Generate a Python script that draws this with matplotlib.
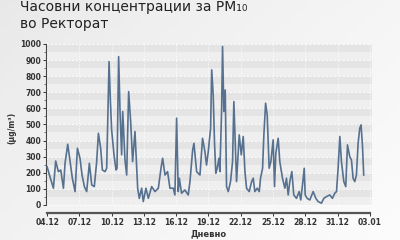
import matplotlib.pyplot as plt
import numpy as np

# hourly PM10 at Rektorat (day offset from 04.12 00:00, value in µg/m³)
days = [0.00, 0.22, 0.59, 0.80, 1.05, 1.27, 1.52, 1.67, 1.92, 2.14,
        2.35, 2.60, 2.82, 3.06, 3.25, 3.47, 3.68, 3.93, 4.15, 4.39,
        4.61, 4.77, 4.98, 5.14, 5.39, 5.54, 5.76, 5.88, 6.00, 6.22,
        6.41, 6.50, 6.65, 6.78, 6.93, 7.03, 7.24, 7.40, 7.58, 7.77,
        7.95, 8.17, 8.42, 8.57, 8.79, 8.94, 9.19, 9.41, 9.72, 10.03,
        10.34, 10.59, 10.74, 10.96, 11.20, 11.42, 11.73, 11.88, 12.04, 12.19,
        12.29, 12.50, 12.81, 13.12, 13.28, 13.53, 13.65, 13.90, 14.21, 14.45,
        14.67, 14.82, 14.98, 15.20, 15.30, 15.44, 15.56, 15.68, 15.81, 15.97,
        16.06, 16.22, 16.31, 16.43, 16.56, 16.68, 16.84, 17.05, 17.24, 17.36,
        17.49, 17.61, 17.86, 18.05, 18.23, 18.39, 18.54, 18.79, 19.01, 19.16,
        19.31, 19.53, 19.72, 19.84, 20.03, 20.15, 20.31, 20.46, 20.64, 20.80,
        21.01, 21.14, 21.26, 21.48, 21.63, 21.88, 22.10, 22.25, 22.41, 22.56,
        22.75, 22.93, 23.18, 23.43, 23.58, 23.74, 23.90, 23.99, 24.17, 24.42,
        24.73, 24.98, 25.19, 25.50, 25.72, 25.97, 26.28, 26.52, 26.74, 26.90,
        27.05, 27.21, 27.36, 27.58, 27.76, 27.92, 28.13, 28.29, 28.44, 28.60,
        28.75, 28.91, 29.06, 29.18, 29.31, 29.43]
pm10 = [238, 186, 104, 273, 207, 217, 104, 259, 377, 269,
        166, 83, 352, 290, 186, 114, 83, 259, 124, 114,
        269, 445, 352, 217, 207, 228, 890, 652, 466, 311,
        217, 228, 921, 580, 311, 580, 280, 186, 704, 518,
        269, 456, 104, 41, 104, 21, 104, 41, 114, 83,
        104, 228, 290, 186, 207, 104, 104, 62, 539, 83,
        166, 73, 93, 62, 145, 342, 383, 207, 186, 414,
        331, 248, 331, 476, 839, 683, 393, 197, 228, 290,
        207, 580, 984, 580, 714, 114, 83, 145, 269, 642,
        373, 145, 435, 311, 425, 207, 104, 83, 145, 166,
        83, 104, 83, 166, 228, 435, 632, 559, 228, 269,
        404, 114, 321, 414, 269, 166, 104, 166, 62, 145,
        207, 62, 41, 83, 31, 124, 228, 62, 41, 31,
        83, 41, 21, 11, 41, 52, 62, 41, 73, 83,
        228, 425, 269, 145, 114, 373, 300, 280, 166, 145,
        186, 383, 476, 497, 373, 186]

tick_days = [0, 3, 6, 9, 12, 15, 18, 21, 24, 27, 30]
tick_labels = ['04.12', '07.12', '10.12', '13.12', '16.12', '19.12',
               '22.12', '25.12', '28.12', '31.12', '03.01']

fig = plt.figure(figsize=(4, 2.4), dpi=100)

# soft gray-to-white gradient behind everything
bg = fig.add_axes([0, 0, 1, 1], zorder=-10)
gx, gy = np.meshgrid(np.linspace(0, 1, 200), np.linspace(0, 1, 120))
grad = 0.6 * gx + 0.4 * gy
bg.imshow(grad, cmap='Greys_r', vmin=-6, vmax=1.2, aspect='auto', extent=[0, 1, 0, 1])
bg.axis('off')

ax = fig.add_axes([0.115, 0.1125, 0.815, 0.7125])
ax.set_facecolor('none')

# striped background bands
for i, lo in enumerate(range(0, 1000, 50)):
    ax.axhspan(lo, lo + 50, color='#e4e4e4' if i % 2 else '#efefef', lw=0, zorder=0)
for v in range(0, 1001, 100):
    ax.axhline(v, color='white', lw=0.6, ls=(0, (3, 2)), zorder=1)
for d in tick_days:
    ax.axvline(d, ymin=0.05, color='white', lw=0.5, ls=(0, (2, 2)), zorder=1)

ax.plot(days, pm10, color='#56718f', lw=1.2, zorder=3)

ax.set_xlim(-0.1, 30.2)
ax.set_ylim(-50, 1012)
ax.set_yticks(range(0, 1001, 100))
ax.set_yticks(range(0, 1001, 50), minor=True)
ax.set_xticks(tick_days)
ax.set_xticklabels(tick_labels)

for s in ['top', 'right']:
    ax.spines[s].set_visible(False)
ax.spines['left'].set_bounds(0, 1000)
ax.spines['bottom'].set_bounds(0, 30)
ax.spines['left'].set_color('#444444')
ax.spines['bottom'].set_color('#555555')
ax.spines['bottom'].set_linewidth(1.6)
ax.tick_params(axis='both', labelsize=5.5, colors='#333333', length=2.5, width=0.7, pad=1)
ax.tick_params(axis='y', which='minor', length=1.5, width=0.5, colors='#444444')
for lab in ax.get_xticklabels() + ax.get_yticklabels():
    lab.set_fontweight('bold')

ax.set_ylabel('(µg/m³)', fontsize=5.5, fontweight='bold', color='#333333', labelpad=3)
ax.set_xlabel('Дневно', fontsize=6, fontweight='bold', color='#333333', labelpad=2)

fig.text(0.05, 0.954, 'Часовни концентрации за PM₁₀', fontsize=10, color='#222222', va='baseline')
fig.text(0.05, 0.883, 'во Ректорат', fontsize=10, color='#222222', va='baseline')

fig.savefig('out.png', dpi=100)
